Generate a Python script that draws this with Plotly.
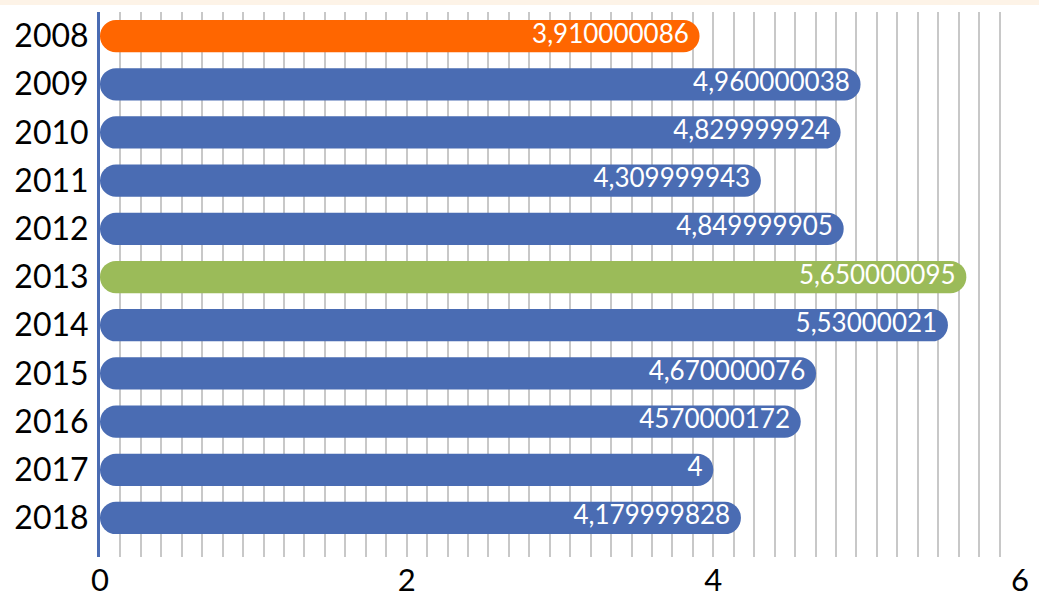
import plotly.graph_objects as go

years = ["2008", "2009", "2010", "2011", "2012", "2013", "2014", "2015", "2016", "2017", "2018"]
values = [3.910000086, 4.960000038, 4.829999924, 4.309999943, 4.849999905,
          5.650000095, 5.53000021, 4.670000076, 4.570000172, 4.0, 4.179999828]
labels = ["3,910000086", "4,960000038", "4,829999924", "4,309999943", "4,849999905",
          "5,650000095", "5,53000021", "4,670000076", "4570000172", "4", "4,179999828"]
x_ticks = [0, 2, 4, 6]

BLUE = "#4A6CB3"
ORANGE = "#FF6600"
GREEN = "#9BBB59"
colors = [ORANGE] + [BLUE] * 4 + [GREEN] + [BLUE] * 5

LABEL_INSET = 0.07  # data units between bar end and label

fig = go.Figure()
fig.add_trace(go.Bar(
    y=years, x=values, base=[0] * len(values), orientation="h",
    marker=dict(color=colors, line=dict(width=0), cornerradius=16),
    showlegend=False,
))
fig.add_trace(go.Scatter(
    y=years, x=[v - LABEL_INSET for v in values], mode="text",
    text=labels, textposition="middle left",
    textfont=dict(family="Lato", size=26, color="white", weight=400),
    hoverinfo="skip", showlegend=False,
))

fig.update_layout(
    width=1039, height=601,
    margin=dict(l=100, r=19, t=12, b=44),
    paper_bgcolor="white", plot_bgcolor="white",
    bargap=0.33,
    font=dict(family="Lato", color="black"),
    shapes=[dict(type="rect", xref="paper", yref="paper",
                 x0=-0.2, x1=1.1, y0=1.0128, y1=1.03,
                 fillcolor="#FDF3E7", line=dict(width=0), layer="below")],
)
fig.update_xaxes(
    range=[0, 6], tickvals=x_ticks, ticktext=[str(t) for t in x_ticks],
    showgrid=True, gridcolor="#C8C8C8", gridwidth=1.5,
    minor=dict(dtick=2/15, showgrid=True, gridcolor="#C8C8C8", gridwidth=1.5),
    zeroline=False, showline=False, ticks="",
    tickfont=dict(family="Lato", size=31, color="black"),
    ticklabelstandoff=2, automargin=False,
)
fig.update_yaxes(
    type="category", categoryorder="array", categoryarray=years,
    range=[10.81, -0.5],
    showgrid=False, zeroline=False,
    showline=True, linecolor=BLUE, linewidth=3,
    ticks="", tickfont=dict(family="Lato", size=32, color="black"),
    ticklabelstandoff=2, automargin=False,
)

fig.write_html("out.html", config={"displayModeBar": False},
               post_script="document.body.style.margin='0';")
